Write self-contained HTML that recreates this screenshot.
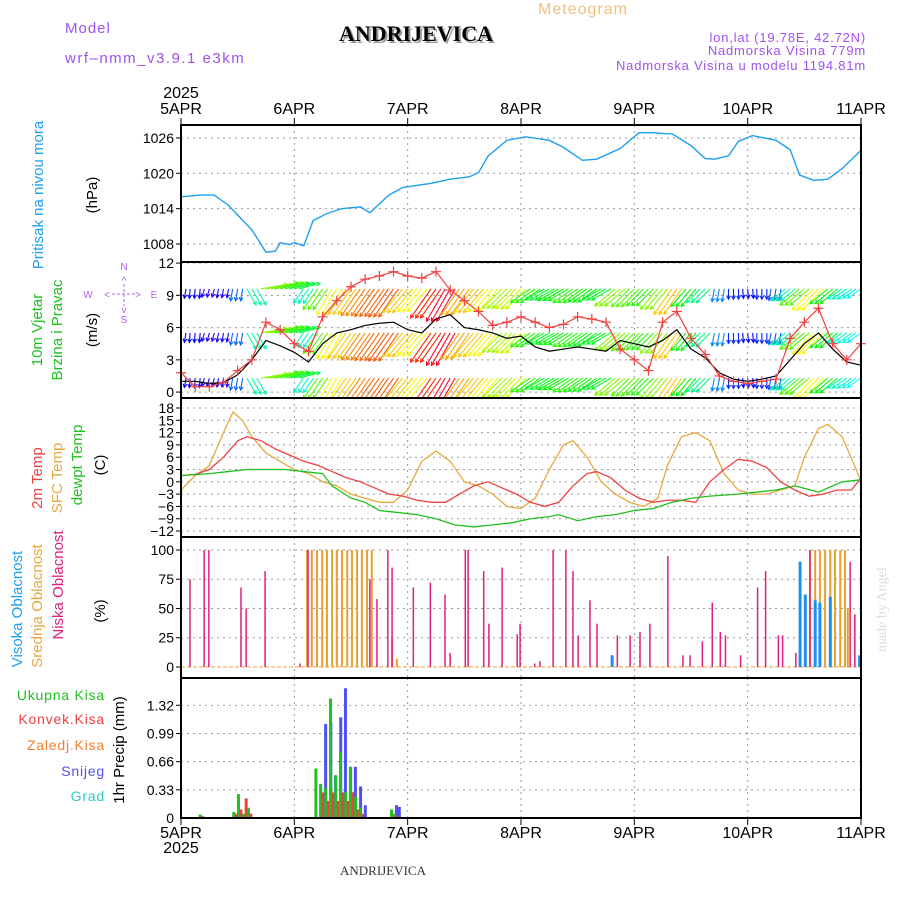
<!DOCTYPE html>
<html><head><meta charset="utf-8"><style>
body{margin:0;background:#fff;}
svg{display:block;font-family:"Liberation Sans",sans-serif;}
</style></head><body>
<svg id="chart" width="900" height="900" viewBox="0 0 900 900" xmlns="http://www.w3.org/2000/svg">
<rect width="900" height="900" fill="#fff"/>
<text x="65" y="33" font-size="15" fill="#a050f0" letter-spacing="1">Model</text>
<text x="65" y="63" font-size="15" fill="#a050f0" letter-spacing="1.5">wrf–nmm_v3.9.1 e3km</text>
<text x="418" y="43" font-size="22" font-weight="bold" font-family="Liberation Serif,serif" text-anchor="middle" fill="#999">ANDRIJEVICA</text>
<text x="416" y="41" font-size="22" font-weight="bold" font-family="Liberation Serif,serif" text-anchor="middle" fill="#000">ANDRIJEVICA</text>
<text x="583" y="14" font-size="16" fill="#f0c080" text-anchor="middle" letter-spacing="1">Meteogram</text>
<text x="866" y="42" font-size="13" fill="#a050f0" text-anchor="end" letter-spacing="0.8">lon,lat (19.78E, 42.72N)</text>
<text x="866" y="55" font-size="13" fill="#a050f0" text-anchor="end" letter-spacing="0.8">Nadmorska Visina 779m</text>
<text x="866" y="70" font-size="13" fill="#a050f0" text-anchor="end" letter-spacing="0.8">Nadmorska Visina u modelu 1194.81m</text>
<text transform="translate(886,652) rotate(-90)" font-size="14" fill="#d8e0d8" font-family="Liberation Serif,serif">made by Angel</text>
<text x="383" y="875" font-size="13" font-family="Liberation Serif,serif" text-anchor="middle" fill="#333">ANDRIJEVICA</text>

<text transform="translate(43,195) rotate(-90)" font-size="15" fill="#1ea0f0" text-anchor="middle">Pritisak na nivou mora</text>
<text transform="translate(97,195) rotate(-90)" font-size="15" fill="#000" text-anchor="middle">(hPa)</text>
<text transform="translate(42,330) rotate(-90)" font-size="15" fill="#20c020" text-anchor="middle">10m Vjetar</text>
<text transform="translate(62,330) rotate(-90)" font-size="15" fill="#20c020" text-anchor="middle">Brzina i Pravac</text>
<text transform="translate(97,330) rotate(-90)" font-size="15" fill="#000" text-anchor="middle">(m/s)</text>
<g fill="#b060f0" font-size="10" text-anchor="middle">
<text x="88" y="298">W</text><text x="154" y="298">E</text><text x="124" y="270">N</text><text x="124" y="323">S</text>
<text x="124" y="284">^</text><text x="124" y="313">v</text><text x="107" y="298">&lt;</text><text x="138" y="298">&gt;</text>
<line x1="112" y1="294" x2="135" y2="294" stroke="#b060f0" stroke-dasharray="3,2"/>
<line x1="124" y1="284" x2="124" y2="306" stroke="#b060f0" stroke-dasharray="3,2"/>
</g>
<text transform="translate(42,478) rotate(-90)" font-size="15" fill="#f04040" text-anchor="middle">2m Temp</text>
<text transform="translate(62,478) rotate(-90)" font-size="15" fill="#e8a840" text-anchor="middle">SFC Temp</text>
<text transform="translate(82,465) rotate(-90)" font-size="15" fill="#20c020" text-anchor="middle">dewpt Temp</text>
<text transform="translate(105,465) rotate(-90)" font-size="15" fill="#000" text-anchor="middle">(C)</text>
<text transform="translate(22,609) rotate(-90)" font-size="15" fill="#1ea0f0" text-anchor="middle">Visoka Oblacnost</text>
<text transform="translate(42,606) rotate(-90)" font-size="15" fill="#e8a840" text-anchor="middle">Srednja Oblacnost</text>
<text transform="translate(63,585) rotate(-90)" font-size="15" fill="#e0207f" text-anchor="middle">Niska Oblacnost</text>
<text transform="translate(105,611) rotate(-90)" font-size="15" fill="#000" text-anchor="middle">(%)</text>
<g font-size="14" text-anchor="end" letter-spacing="0.8">
<text x="105" y="700" fill="#20c020">Ukupna  Kisa</text>
<text x="105" y="724" fill="#f04040">Konvek.Kisa</text>
<text x="105" y="750" fill="#f08030">Zaledj.Kisa</text>
<text x="105" y="776" fill="#5050f0">Snijeg</text>
<text x="105" y="801" fill="#30c8c8">Grad</text>
</g>
<text transform="translate(124,750) rotate(-90)" font-size="15" fill="#000" text-anchor="middle">1hr Precip (mm)</text>
<g id="plots"></g>
</svg>
<script>
const hours=[0,3,6,9,12,15,18,21,24,27,30,33,36,39,42,45,48,51,54,57,60,63,66,69,72,75,78,81,84,87,90,93,96,99,102,105,108,111,114,117,120,123,126,129,132,135,138,141,144];
const dayLabels=["5APR","6APR","7APR","8APR","9APR","10APR","11APR"];
// pressure
const presHours=[0,4,7,10,15,20,18,24,21,23,26,28,31,34,38,40,44,47,53,57,61,63,65,69,73,78,81,85,88,93,97,100,103,104,108,111,113,116,118,121,126,129,131,134,137,140,144];
const presVals=[1016,1016.3,1016.3,1014.6,1010.4,1006.8,1006.6,1008.2,1008.2,1007.9,1007.7,1012,1013.2,1014,1014.3,1013.3,1016.3,1017.6,1018.3,1019,1019.4,1020.1,1022.9,1025.6,1026.2,1025.6,1024.4,1022.2,1022.4,1024.2,1026.9,1026.9,1026.7,1026.7,1024.7,1022.5,1022.4,1023,1025.4,1026.4,1025.6,1024,1019.7,1018.8,1019,1020.8,1023.9];
// wind
const windSpeed=[1.0,1.0,0.8,0.9,1.6,3.0,4.8,4.3,3.7,2.8,4.5,5.5,5.8,6.2,6.4,6.5,5.8,5.5,6.8,7.2,6.0,5.8,5.5,5.0,5.2,4.2,3.8,4.0,4.2,4.0,3.8,4.8,4.5,4.2,4.8,5.8,4.0,3.2,1.8,1.2,1.0,1.2,1.5,3.0,4.5,5.5,4.0,2.8,2.5];
const windGust=[1.8,0.5,0.5,0.9,2.0,3.0,6.5,5.8,4.5,3.8,7.0,8.5,9.8,10.5,10.8,11.2,10.8,10.6,11.2,9.5,8.5,7.5,6.2,6.5,7.0,6.5,6.0,6.3,7.0,6.8,6.5,4.0,3.0,2.0,6.5,7.5,5.0,3.5,1.5,1.0,0.8,1.0,1.2,5.0,6.5,7.8,4.5,3.0,4.5];
const windDir=[10,5,15,10,10,330,260,255,255,35,35,30,35,35,35,35,40,40,35,30,35,40,40,45,45,55,60,60,55,55,60,50,45,45,40,35,40,45,10,0,355,0,10,50,50,45,50,55,55];
// temperature
const t2m=[1.5,1.8,3,6,10,11,10,8,6.5,5,4,2.5,1,0,-1.5,-3,-3.5,-4.5,-5,-5,-3,-1,0,-1.5,-3,-5,-6,-5,-1,2,2.5,1,-2,-4,-5,-4.5,-4.5,-5,0,3,5.5,5,3.5,0,-2,-3.5,-3,-2,-2,1,5,8,8.5,6,3,2,1,0.5];
const tHours=[0,3,6,9,12,14,17,20,23,26,29,32,35,38,41,44,47,50,53,56,59,62,65,68,71,74,77,80,83,86,88,91,94,97,100,103,106,109,112,115,118,121,124,127,130,133,136,139,142,144];
const tsfc=[-2,1.5,4,12,17,15,11,7,5,3,2,0,-1,-3,-4,-5,-5,-2,5,7.5,5,0,-1,-3,-6,-6.5,-4,3,9,10,6,0,-3,-5,-6,-4,4,11,12,10,2,-2,-3,-3,-2,-1,6,13,14,11,3,1.5,0.5];
const tsfcHours=[0,3,6,9,11,13,15,18,21,24,27,30,33,36,39,42,45,48,51,54,57,60,63,66,69,72,75,78,81,83,86,89,92,95,98,101,103,106,109,112,115,118,121,124,127,130,132,135,137,140,143,143.5,144];
const tdew=[1.5,2,2.5,3,3,3,2.5,2,-1,-4,-5,-7,-7.5,-8,-9,-10.5,-11,-10.5,-10,-9,-8.5,-8,-9.5,-8.5,-8,-7,-6.5,-5,-4,-3.5,-3,-2.5,-2,-1,-2.5,0,0.5];
const dewHours=[0,6,10,14,18,22,26,30,32,36,39,42,46,50,54,58,62,66,70,74,78,80,84,88,92,96,100,104,108,112,118,122,126,130,135,140,144];
// clouds (hour, %)
const lowHours=[1.9,4.9,5.9,12.7,13.8,17.8,25.2,26.9,40.0,41.5,43.8,44.7,49.2,52.8,55.9,57.0,60.2,60.8,64.1,65.2,68.0,71.2,71.8,74.9,76.0,78.8,81.5,83.0,84.1,86.6,88.1,91.3,92.4,95.1,97.2,99.3,103.1,106.3,107.8,110.4,112.5,114.2,115.3,118.5,122.1,123.8,126.5,127.4,130.2,133.2,141.7,142.7];
const lowVals=[75,100,100,68,50,82,3,100,75,58,100,85,68,72,62,12,100,100,82,37,85,28,37,3,5,100,100,82,27,57,37,10,27,27,30,37,95,10,10,22,55,30,27,10,68,82,27,27,12,100,90,45];
const midHours=[26.7,27.7,28.8,29.9,30.9,32.0,33.0,34.1,35.2,36.2,37.3,38.3,39.4,40.4,44.7,45.7,133.2,134.3,135.3,136.4,137.5,138.5,139.6,140.6,141.2];
const midVals=[100,100,100,100,100,100,100,100,100,100,100,100,100,100,25,7,100,100,100,100,100,100,100,100,50];
const highHours=[91.3,131.1,132.2,134.3,135.3,137.5,143.7];
const highVals=[10,90,62,57,55,60,10];
// precip
const pHours=[4.6,11.7,12.7,13.8,14.8,29.1,30.1,31.2,32.2,33.3,34.3,35.4,36.4,37.5,38.5,45.1,45.7];
const pTotal=[0.04,0.07,0.28,0.05,0.12,0.58,0.4,0.35,1.4,0.5,0.77,0.3,0.6,0.25,0.12,0.1,0.05];
const pConv=[0.02,0.05,0.1,0.23,0.05,0.0,0.3,0.2,0.3,0.2,0.3,0.2,0.3,0.1,0.05,0.04,0.03];
const pSnow=[0,0,0,0,0,0.1,1.1,1.12,0.5,1.18,1.52,0.6,0.6,0.37,0.15,0.15,0.13];

const X0=181,X1=861;
const xs=h=>X0+(X1-X0)*h/144;
const NS="http://www.w3.org/2000/svg";
const root=document.getElementById('plots');
function el(tag,attrs,parent){const e=document.createElementNS(NS,tag);for(const k in attrs)e.setAttribute(k,attrs[k]);(parent||root).appendChild(e);return e;}
const panels=[
 {name:'pressure',y0:125,y1:262,min:1004.94,max:1028.2,ticks:[1008,1014,1020,1026],lab:v=>v},
 {name:'wind',y0:262,y1:398,min:-0.55,max:12.1,ticks:[0,3,6,9,12],lab:v=>v},
 {name:'temp',y0:398,y1:537,min:-13.46,max:20.44,ticks:[-12,-9,-6,-3,0,3,6,9,12,15,18],lab:v=>v<0?'\u2212'+(-v):v},
 {name:'cloud',y0:537,y1:678,min:-9.4,max:111.1,ticks:[0,25,50,75,100],lab:v=>v},
 {name:'precip',y0:678,y1:818,min:0,max:1.64,ticks:[0.33,0.66,0.99,1.32],lab:v=>v.toFixed(2)}
];
panels.forEach(p=>{p.ys=v=>p.y1-(v-p.min)/(p.max-p.min)*(p.y1-p.y0);});
const [PP,PW,PT,PC,PR]=panels;
panels.forEach(p=>{
 const g=el('g',{});
 
 
 for(let d=1;d<6;d++){el('line',{x1:xs(d*24),x2:xs(d*24),y1:p.y0,y2:p.y1,stroke:'#999','stroke-dasharray':'2,4'},g);}
 p.ticks.forEach(t=>{
  const y=p.ys(t);
  el('line',{x1:X0,x2:X1,y1:y,y2:y,stroke:'#999','stroke-dasharray':'2,4'},g);
  el('line',{x1:X0-5,x2:X0,y1:y,y2:y,stroke:'#000'},g);
  const tx=el('text',{x:X0-7,y:y+5,'font-size':14,'text-anchor':'end',fill:'#000'},g);
  tx.textContent=p.lab(t);
  
  
 });
});
{const y=PR.ys(0);el('text',{x:X0-7,y:y+5,'font-size':14,'text-anchor':'end'}).textContent='0';}
const presLine=el('polyline',{fill:'none',stroke:'#1ea0f0','stroke-width':1.4,points:presHours.map((h,i)=>[h,presVals[i]]).sort((a,b)=>a[0]-b[0]).map(a=>xs(a[0])+','+PP.ys(a[1])).join(' ')});


const wg=el('g',{});


const rows=[9.6,5.5,1.3];
function hue(s){let h=280-s*40;if(h<0)h+=360;return h;}
hours.forEach((h,i)=>{
 const s=windSpeed[i],d=windDir[i]*Math.PI/180;
 const len=5+s*4.5;
 const dx=-Math.sin(d)*len, dy=Math.cos(d)*len;
 const col='hsl('+hue(s)+',95%,50%)';
 for(let k=0;k<3;k++){
  for(let j=0;j<3;j++){
   const x=xs(h)+j*5-5, y=PW.ys(rows[k]);
   if(x<X0||x>X1) continue;
   const x2=x+dx,y2=y+dy;
   const a=Math.atan2(dy,dx);
   const ar=el('path',{d:`M${x},${y}L${x2},${y2}M${x2-4*Math.cos(a-0.5)},${y2-4*Math.sin(a-0.5)}L${x2},${y2}L${x2-4*Math.cos(a+0.5)},${y2-4*Math.sin(a+0.5)}`,stroke:col,'stroke-width':1.1,fill:'none'},wg);
   
   
  }
 }
});
const cp=el('clipPath',{id:'wclip'});el('rect',{x:X0,y:PW.y0,width:X1-X0,height:PW.y1-PW.y0},cp);
wg.setAttribute('clip-path','url(#wclip)');
const sl=el('polyline',{fill:'none',stroke:'#000','stroke-width':1.2,points:hours.map((h,i)=>xs(h)+','+PW.ys(windSpeed[i])).join(' ')});


const gl=el('polyline',{fill:'none',stroke:'#f04040','stroke-width':1.2,points:hours.map((h,i)=>xs(h)+','+PW.ys(windGust[i])).join(' ')});


hours.forEach((h,i)=>{const x=xs(h),y=PW.ys(windGust[i]);
 const m=el('path',{d:`M${x-5},${y}H${x+5}M${x},${y-5}V${y+5}`,stroke:'#f04040','stroke-width':1.2});
 
 });
function line(hs,vs,col,name){const l=el('polyline',{fill:'none',stroke:col,'stroke-width':1.3,points:hs.map((h,i)=>xs(h)+','+PT.ys(vs[i])).join(' ')});
 
 }
line(tsfcHours,tsfc,'#e8a840','sfc-temp-line');
line(tHours,t2m,'#f04040','2m-temp-line');
line(dewHours,tdew,'#20c020','dewpt-temp-line');
el('line',{x1:X0,x2:X1,y1:PC.ys(0),y2:PC.ys(0),stroke:'#f0c080','stroke-width':1.5,'stroke-dasharray':'4,2'});
function bars(hs,vs,col,name,w){hs.forEach((h,i)=>{const y=PC.ys(vs[i]),y0=PC.ys(0);
 const r=el('rect',{x:xs(h)-w/2,y:y,width:w,height:y0-y,fill:col});
 
 });}
bars(midHours,midVals,'#e8a030','mid-cloud-bar',2);
bars(lowHours,lowVals,'#e0207f','low-cloud-bar',1.5);
bars(highHours,highVals,'#1e90f0','high-cloud-bar',3);
pHours.forEach((h,i)=>{const x=xs(h),y0=PR.ys(0);
 [[pTotal[i],'#20c020',-2.5,'precip-total-bar'],[pConv[i],'#f04040',0,'precip-conv-bar'],[pSnow[i],'#5050f0',2.5,'precip-snow-bar']].forEach(b=>{
  if(b[0]<=0)return;const y=PR.ys(b[0]);
  const r=el('rect',{x:x+b[2]-1.5,y:y,width:3,height:y0-y,fill:b[1]});
  
  
 });});
panels.forEach(p=>{const f=el('rect',{x:X0,y:p.y0,width:X1-X0,height:p.y1-p.y0,fill:'none',stroke:'#000','stroke-width':2});
 
 });
dayLabels.forEach((d,i)=>{const x=xs(i*24);
 el('line',{x1:x,x2:x,y1:118,y2:125,stroke:'#000'});
 el('line',{x1:x,x2:x,y1:818,y2:825,stroke:'#000'});
 const t=el('text',{x:x,y:114,'font-size':16,'text-anchor':'middle'});t.textContent=d;
 
 
 const b=el('text',{x:x,y:838,'font-size':16,'text-anchor':'middle'});b.textContent=d;
 
 
});
const y1=el('text',{x:xs(0),y:98,'font-size':16,'text-anchor':'middle'});y1.textContent='2025';


const y2=el('text',{x:xs(0),y:853,'font-size':16,'text-anchor':'middle'});y2.textContent='2025';


</script>
</body></html>
